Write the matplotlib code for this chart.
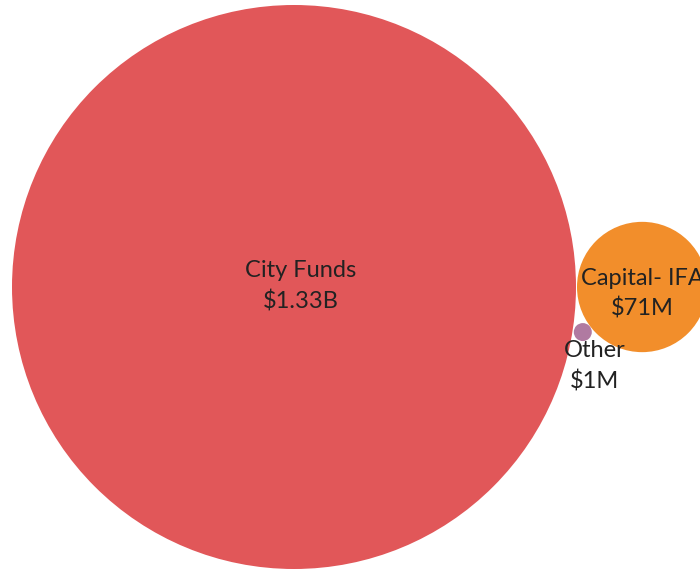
import numpy as np
import matplotlib.pyplot as plt
from matplotlib.patches import Circle

names = ["City Funds", "Capital- IFA", "Other"]
amounts = [1330, 71, 1]            # $ millions
labels = ["$1.33B", "$71M", "$1M"]
colors = ["#E15759", "#F28E2B", "#B07AA1"]

plt.rcParams['font.family'] = ['Lato', 'DejaVu Sans']

fig = plt.figure(figsize=(7, 5.69), dpi=100)
ax = fig.add_axes([0, 0, 1, 1])
ax.set_xlim(0, 700)
ax.set_ylim(569, 0)
ax.set_aspect('equal')
ax.axis('off')

# bubble sizes: area proportional to amount, with a minimum mark size
k = 282 / np.sqrt(amounts[0])
r = np.maximum(k * np.sqrt(np.array(amounts, dtype=float)), 9)

# simple packing: biggest in place, second tangent on the right, third tangent to both
c0 = np.array([294.0, 287.0])
c1 = c0 + np.array([r[0] + r[1] + 1, 0])
d = c1[0] - c0[0]
a = (d**2 + (r[0] + r[2])**2 - (r[1] + r[2])**2) / (2 * d)
h = np.sqrt((r[0] + r[2])**2 - a**2) + 2
c2 = c0 + np.array([a + 1, h])
centers = [c0, c1, c2]

for c, rad, col in zip(centers, r, colors):
    ax.add_patch(Circle(c, rad, color=col, lw=0))

txt = dict(ha='center', va='center', fontsize=17, color='#222222')
ax.text(c0[0] + 7, c0[1] - 17, names[0], **txt)
ax.text(c0[0] + 7, c0[1] + 14, labels[0], **txt)
ax.text(c1[0], c1[1] - 9, names[1], **txt)
ax.text(c1[0], c1[1] + 21, labels[1], **txt)
ax.text(c2[0] + 12, c2[1] + 18, names[2], **txt)
ax.text(c2[0] + 12, c2[1] + 49, labels[2], **txt)

fig.savefig('out.png', dpi=100)
